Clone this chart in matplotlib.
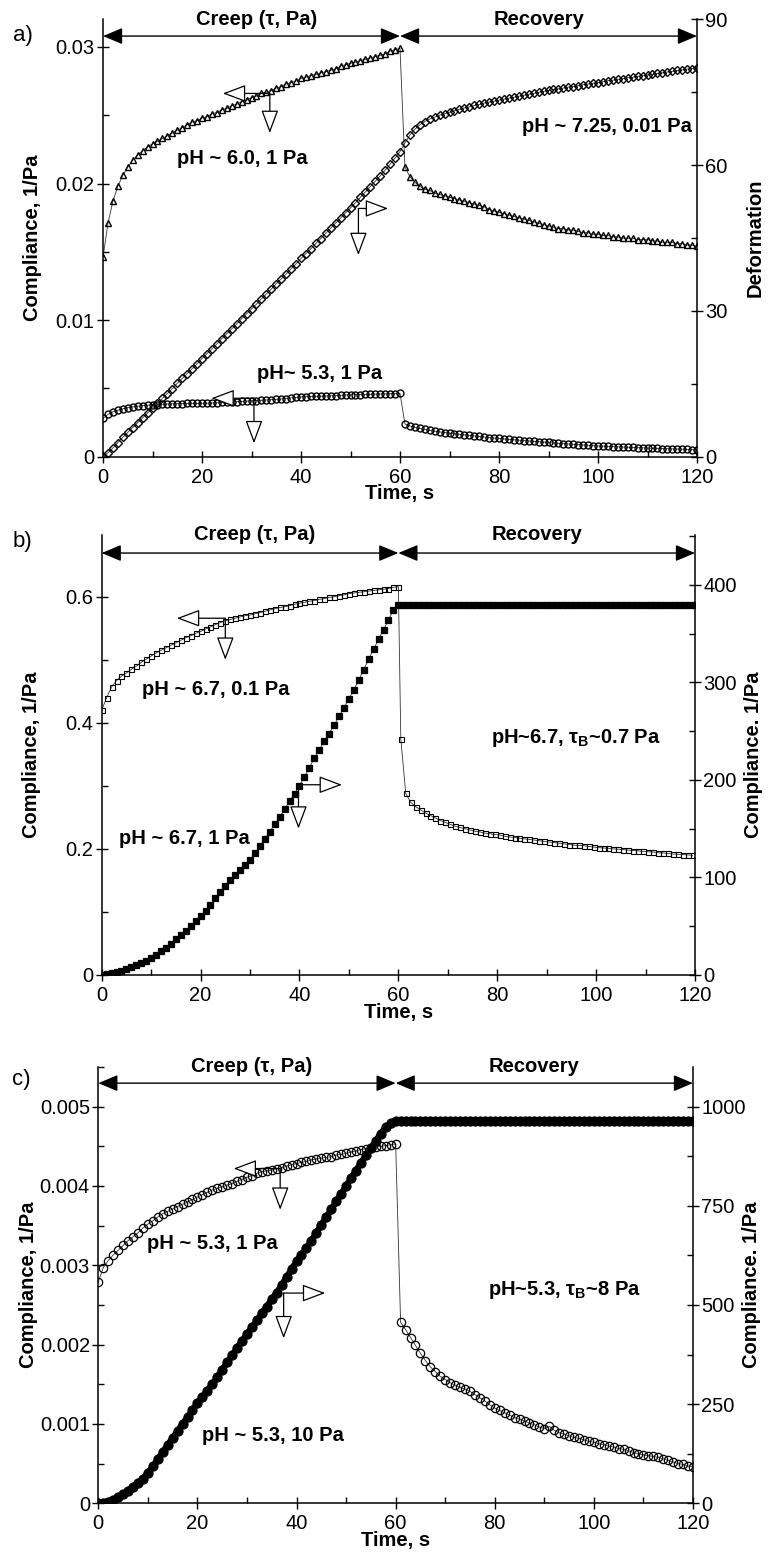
import numpy as np
import matplotlib
matplotlib.use("Agg")
import matplotlib.pyplot as plt
from matplotlib.ticker import MultipleLocator, FuncFormatter

plt.rcParams['font.family'] = ['Liberation Sans', 'DejaVu Sans']
plt.rcParams['mathtext.fontset'] = 'custom'
plt.rcParams['mathtext.rm'] = 'Liberation Sans'
plt.rcParams['mathtext.bf'] = 'Liberation Sans:bold'
plt.rcParams['mathtext.it'] = 'Liberation Sans:italic'

# ---------------- time grids (s) ----------------
t_creep = np.arange(0, 61)          # 0 ... 60 s
t_rec = np.arange(61, 121)          # 61 ... 120 s
t_rec_half = np.arange(60.5, 120, 1.0)  # 60.5 ... 119.5 s

# ---------------- panel a ----------------
# pH ~ 6.0, 1 Pa : compliance (1/Pa), triangles
a_tri_creep = [0.0146, 0.0171, 0.0187, 0.0198, 0.0206, 0.0212, 0.0217, 0.0221, 0.0224, 0.0227,
               0.0229, 0.0231, 0.0233, 0.0235, 0.0237, 0.0239, 0.0241, 0.0243, 0.0245, 0.0246,
               0.0248, 0.0249, 0.0251, 0.0252, 0.0254, 0.0255, 0.0257, 0.0258, 0.0260, 0.0261,
               0.0263, 0.0264, 0.0266, 0.0267, 0.0268, 0.0270, 0.0271, 0.0273, 0.0274, 0.0275,
               0.0277, 0.0278, 0.0279, 0.0280, 0.0281, 0.0282, 0.0283, 0.0284, 0.0286, 0.0287,
               0.0288, 0.0289, 0.0290, 0.0291, 0.0292, 0.0293, 0.0294, 0.0295, 0.0297, 0.0298,
               0.0299]
a_tri_rec = [0.0212, 0.0205, 0.0201, 0.0198, 0.0196, 0.0195, 0.0193, 0.0192, 0.0191, 0.0190,
             0.0189, 0.0188, 0.0187, 0.0186, 0.0185, 0.0184, 0.0183, 0.0181, 0.0180, 0.0179,
             0.0178, 0.0177, 0.0176, 0.0175, 0.0174, 0.0173, 0.0172, 0.0171, 0.0170, 0.0169,
             0.0168, 0.0167, 0.0167, 0.0166, 0.0166, 0.0165, 0.0164, 0.0164, 0.0163, 0.0163,
             0.0162, 0.0162, 0.0161, 0.0161, 0.0160, 0.0160, 0.0160, 0.0159, 0.0159, 0.0159,
             0.0158, 0.0158, 0.0157, 0.0157, 0.0157, 0.0156, 0.0156, 0.0155, 0.0155, 0.0154]

# pH ~ 7.25, 0.01 Pa : deformation
a_def_creep = [0.0, 0.8, 1.8, 2.9, 4.0, 5.0, 6.0, 7.0, 8.0, 9.0,
               10.0, 11.0, 12.0, 13.0, 14.0, 15.1, 16.1, 17.1, 18.1, 19.1,
               20.2, 21.2, 22.2, 23.2, 24.3, 25.3, 26.3, 27.3, 28.4, 29.4,
               30.4, 31.4, 32.5, 33.5, 34.5, 35.6, 36.6, 37.6, 38.7, 39.7,
               40.8, 41.8, 42.8, 43.9, 44.9, 46.0, 47.0, 48.1, 49.1, 50.2,
               51.2, 52.3, 53.4, 54.5, 55.6, 56.7, 57.8, 59.0, 60.2, 61.5,
               62.8]
a_def_rec = [64.6, 66.2, 67.4, 68.3, 69.0, 69.5, 69.9, 70.3, 70.6, 70.9,
             71.2, 71.5, 71.8, 72.0, 72.3, 72.5, 72.8, 73.0, 73.2, 73.4,
             73.6, 73.8, 74.0, 74.2, 74.4, 74.6, 74.8, 75.0, 75.2, 75.4,
             75.6, 75.7, 75.9, 76.1, 76.2, 76.4, 76.6, 76.7, 76.9, 77.0,
             77.2, 77.4, 77.5, 77.7, 77.8, 78.0, 78.1, 78.3, 78.4, 78.6,
             78.7, 78.9, 79.0, 79.2, 79.3, 79.5, 79.6, 79.8, 79.9, 80.1]

# pH ~ 5.3, 1 Pa : compliance (1/Pa), circles
a_cir_creep = [0.0028, 0.0031, 0.0033, 0.0034, 0.0035, 0.0036, 0.00365, 0.0037, 0.00374, 0.00377,
               0.0038, 0.00382, 0.00384, 0.00386, 0.00387, 0.00388, 0.00389, 0.0039, 0.0039, 0.0039,
               0.00391, 0.00392, 0.00393, 0.00395, 0.00397, 0.00399, 0.00401, 0.00403, 0.00405, 0.00407,
               0.00409, 0.00411, 0.00413, 0.00415, 0.00418, 0.0042, 0.00423, 0.00426, 0.0043, 0.00435,
               0.00438, 0.0044, 0.00441, 0.00442, 0.00443, 0.00444, 0.00446, 0.00448, 0.0045, 0.00452,
               0.00453, 0.00454, 0.00455, 0.00456, 0.00457, 0.00458, 0.00459, 0.0046, 0.00461, 0.00462,
               0.00464]
a_cir_rec = [0.0024, 0.00225, 0.00215, 0.00207, 0.0020, 0.00193, 0.00187, 0.00182, 0.00177, 0.00172,
             0.00168, 0.00164, 0.0016, 0.00156, 0.00152, 0.00148, 0.00144, 0.0014, 0.00137, 0.00134,
             0.0013, 0.00127, 0.00124, 0.00121, 0.00118, 0.00115, 0.00112, 0.0011, 0.00107, 0.00104,
             0.00101, 0.00098, 0.00096, 0.00093, 0.00091, 0.00088, 0.00086, 0.00084, 0.00081, 0.00079,
             0.00077, 0.00076, 0.00074, 0.00072, 0.00071, 0.00069, 0.00068, 0.00066, 0.00065, 0.00063,
             0.00062, 0.00061, 0.0006, 0.00058, 0.00057, 0.00056, 0.00055, 0.00053, 0.00052, 0.00051]

# ---------------- panel b ----------------
# pH ~ 6.7, 0.1 Pa : compliance (1/Pa), open squares
b_open_creep = [0.420, 0.440, 0.457, 0.467, 0.474, 0.479, 0.485, 0.490, 0.496, 0.501,
                0.506, 0.511, 0.515, 0.519, 0.523, 0.527, 0.531, 0.535, 0.538, 0.542,
                0.545, 0.549, 0.552, 0.556, 0.559, 0.562, 0.564, 0.566, 0.568, 0.570,
                0.571, 0.573, 0.575, 0.577, 0.579, 0.581, 0.583, 0.584, 0.586, 0.588,
                0.590, 0.591, 0.593, 0.594, 0.596, 0.597, 0.599, 0.600, 0.602, 0.603,
                0.605, 0.606, 0.607, 0.608, 0.609, 0.610, 0.611, 0.612, 0.613, 0.615,
                0.616]
b_open_rec = [0.374, 0.288, 0.274, 0.267, 0.262, 0.257, 0.253, 0.249, 0.245, 0.242,
              0.239, 0.236, 0.234, 0.232, 0.230, 0.228, 0.227, 0.225, 0.224, 0.223,
              0.222, 0.220, 0.219, 0.218, 0.217, 0.216, 0.215, 0.214, 0.213, 0.212,
              0.211, 0.210, 0.209, 0.208, 0.207, 0.206, 0.2055, 0.205, 0.204, 0.203,
              0.202, 0.2015, 0.201, 0.200, 0.1995, 0.199, 0.198, 0.1975, 0.197, 0.196,
              0.1955, 0.195, 0.194, 0.1935, 0.193, 0.192, 0.1915, 0.191, 0.1905, 0.190]

# pH ~ 6.7, 1 Pa : compliance (1/Pa), filled squares
b_fill_creep = [0, 1, 2, 3, 4.5, 6, 8, 10, 12, 14.5,
                17.5, 21, 24.5, 28, 32, 36.5, 41, 45.5, 50, 55,
                60, 66, 72, 78.5, 85, 91.5, 97.5, 103, 108, 113,
                118, 125, 132, 139.5, 147, 154.5, 162, 170, 178, 186,
                194, 203, 212.5, 222, 231, 239.5, 247.5, 256, 265, 274,
                283, 292.5, 302.5, 313, 324, 334, 344, 354, 364, 374,
                379]
b_fill_rec = [379, 379, 379, 379, 379, 379, 379, 379, 379, 379,
              379, 379, 379, 379, 379, 379, 379, 379, 379, 379,
              379, 379, 379, 379, 379, 379, 379, 379, 379, 379,
              379, 379, 379, 379, 379, 379, 379, 379, 379, 379,
              379, 379, 379, 379, 379, 379, 379, 379, 379, 379,
              379, 379, 379, 379, 379, 379, 379, 379, 379, 379]

# ---------------- panel c ----------------
# pH ~ 5.3, 1 Pa : compliance (1/Pa), open circles
c_open_creep = [0.00279, 0.00297, 0.00306, 0.00313, 0.00319, 0.00325, 0.00331, 0.00336, 0.00341, 0.00347,
                0.00352, 0.00356, 0.00361, 0.00365, 0.00368, 0.00371, 0.00374, 0.00377, 0.0038, 0.00383,
                0.00386, 0.00389, 0.00392, 0.00395, 0.00397, 0.00399, 0.00401, 0.00403, 0.00406, 0.00408,
                0.00411, 0.00413, 0.00416, 0.00418, 0.00419, 0.0042, 0.00422, 0.00423, 0.00425, 0.00427,
                0.00428, 0.0043, 0.00431, 0.00433, 0.00434, 0.00435, 0.00436, 0.00437, 0.00439, 0.0044,
                0.00441, 0.00443, 0.00444, 0.00446, 0.00447, 0.00448, 0.00449, 0.0045, 0.00451, 0.00452,
                0.00453]
c_open_rec = [0.00228, 0.00219, 0.00209, 0.00199, 0.00189, 0.0018, 0.00172, 0.00166, 0.0016, 0.00156,
              0.00152, 0.00149, 0.00146, 0.00144, 0.00141, 0.00137, 0.00133, 0.00129, 0.00124, 0.0012,
              0.00117, 0.00114, 0.00111, 0.00108, 0.00106, 0.00104, 0.00101, 0.00099, 0.00096, 0.00094,
              0.00097, 0.00092, 0.00089, 0.00087, 0.00085, 0.00083, 0.00082, 0.0008, 0.00078, 0.00077,
              0.00075, 0.00074, 0.00072, 0.00071, 0.00069, 0.00068, 0.00066, 0.00064, 0.00062, 0.00061,
              0.0006, 0.00059, 0.00058, 0.00056, 0.00054, 0.00052, 0.0005, 0.00049, 0.00047, 0.00046]

# pH ~ 5.3, 10 Pa : compliance (1/Pa), filled circles
c_fill_creep = [0, 1, 3, 8, 15, 23, 32, 42, 52, 62,
                76, 93, 111, 129, 147, 165, 182, 200, 217, 235,
                252, 268, 284, 300, 318, 337, 355, 373, 391, 409,
                427, 444, 461, 479, 496, 514, 531, 550, 570, 590,
                610, 627, 644, 662, 682, 702, 721, 741, 761, 780,
                800, 819, 839, 858, 877, 895, 914, 932, 948, 958,
                964]
c_fill_rec = [965, 965, 965, 965, 965, 965, 965, 965, 965, 965,
              965, 965, 965, 965, 965, 965, 965, 965, 965, 965,
              965, 965, 965, 965, 965, 965, 965, 965, 965, 965,
              965, 965, 965, 965, 965, 965, 965, 965, 965, 965,
              965, 965, 965, 965, 965, 965, 965, 965, 965, 965,
              965, 965, 965, 965, 965, 965, 965, 965, 965, 965]

# ---------------- figure ----------------
W, H = 768, 1562
fig = plt.figure(figsize=(W / 100, H / 100), dpi=100)


def px_axes(left, right, top, bottom):
    return fig.add_axes([left / W, 1 - bottom / H, (right - left) / W, (bottom - top) / H])


FS_TICK = 14.5
FS_BOLD = 14.5


def fmt(v, pos):
    return '0' if abs(v) < 1e-12 else '%g' % v


def style(ax, ax2, ylim_l, ylim_r, lmaj, lmin, rmaj, rmin, rlabel):
    ax.set_xlim(0, 120)
    ax.set_ylim(*ylim_l)
    ax2.set_ylim(*ylim_r)
    ax.xaxis.set_major_locator(MultipleLocator(20))
    ax.xaxis.set_minor_locator(MultipleLocator(10))
    ax.yaxis.set_major_locator(MultipleLocator(lmaj))
    ax.yaxis.set_minor_locator(MultipleLocator(lmin))
    ax2.yaxis.set_major_locator(MultipleLocator(rmaj))
    ax2.yaxis.set_minor_locator(MultipleLocator(rmin))
    ax.yaxis.set_major_formatter(FuncFormatter(fmt))
    ax2.yaxis.set_major_formatter(FuncFormatter(fmt))
    for a in (ax, ax2):
        a.tick_params(which='major', direction='inout', length=9, width=1.0,
                      labelsize=FS_TICK, pad=1.5)
        a.tick_params(which='minor', direction='in', length=4.5, width=1.0)
        a.spines['top'].set_visible(False)
        for s in a.spines.values():
            s.set_linewidth(1.1)
    ax.tick_params(axis='x', which='major', pad=3.5)
    ax.spines['right'].set_visible(False)
    ax2.spines['left'].set_visible(False)
    ax2.spines['bottom'].set_visible(False)
    ax.set_xlabel('Time, s', fontsize=FS_BOLD, fontweight='bold')
    ax.xaxis.set_label_coords(0.5, -0.085)
    ax.xaxis.label.set_va('center')
    ax.set_ylabel('Compliance, 1/Pa', fontsize=FS_BOLD, fontweight='bold')
    ax.yaxis.set_label_coords(-0.118, 0.5)
    ax.yaxis.label.set_va('center')
    ax2.set_ylabel(rlabel, fontsize=FS_BOLD, fontweight='bold', rotation=90)
    ax2.yaxis.set_label_coords(1.098, 0.5)
    ax2.yaxis.label.set_va('center')
    ax.patch.set_visible(False)


def phases(ax, yfrac):
    tr = ax.get_xaxis_transform()
    kw = dict(arrowstyle='<|-|>,head_length=1.0,head_width=0.42', fc='black', ec='black',
              lw=1.0, shrinkA=0, shrinkB=0, mutation_scale=12)
    ax.annotate('', xy=(60, yfrac), xytext=(0, yfrac), xycoords=tr, textcoords=tr,
                arrowprops=kw, annotation_clip=False)
    ax.annotate('', xy=(120, yfrac), xytext=(60, yfrac), xycoords=tr, textcoords=tr,
                arrowprops=kw, annotation_clip=False)
    ax.text(31, 1.0, 'Creep (τ, Pa)', transform=tr, ha='center', va='center',
            fontsize=FS_BOLD, fontweight='bold')
    ax.text(88, 1.0, 'Recovery', transform=tr, ha='center', va='center',
            fontsize=FS_BOLD, fontweight='bold')


def pointer(ax, x0, y0, x_tip, y_tip):
    kw = dict(arrowstyle='-|>,head_length=1.2,head_width=0.45', fc='white', ec='black',
              lw=0.9, shrinkA=0, shrinkB=0, mutation_scale=12)
    ax.annotate('', xy=(x_tip, y0), xytext=(x0, y0), arrowprops=kw, zorder=8)
    ax.annotate('', xy=(x0, y_tip), xytext=(x0, y0), arrowprops=kw, zorder=8)


def series(ax, t1, y1, t2, y2, marker, ms, filled=False, mew=0.9, lw=0.6):
    t = np.concatenate([t1, t2])
    y = np.concatenate([y1, y2])
    ax.plot(t, y, '-', color='black' if lw > 1 else '#333333', lw=lw, zorder=2)
    ax.plot(t, y, linestyle='none', marker=marker, ms=ms,
            mfc='black' if filled else 'none', mec='black', mew=mew, zorder=3)


def label(ax, x, y, s):
    ax.text(x, y, s, ha='center', va='center', fontsize=FS_BOLD, fontweight='bold', zorder=9)


# ---- a) ----
axa = px_axes(103, 697, 19, 456.7)
axa2 = axa.twinx()
style(axa, axa2, (0, 0.03205), (0, 90.1), 0.01, 0.005, 30, 15, 'Deformation')
series(axa, t_creep, a_tri_creep, t_rec, a_tri_rec, '^', 5.0, mew=1.0)
series(axa, t_creep, a_cir_creep, t_rec, a_cir_rec, 'o', 5.0, mew=1.0)
series(axa2, t_creep, a_def_creep, t_rec, a_def_rec, 'D', 4.0, mew=1.0)
phases(axa, 0.961)
pointer(axa, 33.7, 0.0266, 24.2, 0.0237)
pointer(axa, 30.5, 0.00428, 21.9, 0.00098)
pointer(axa2, 51.6, 51.1, 57.6, 41.5)
label(axa, 28.2, 0.02187, 'pH ~ 6.0, 1 Pa')
label(axa2, 101.8, 67.9, 'pH ~ 7.25, 0.01 Pa')
label(axa, 43.8, 0.0061, 'pH~ 5.3, 1 Pa')

# ---- b) ----
axb = px_axes(101.7, 695, 535, 975)
axb2 = axb.twinx()
style(axb, axb2, (0, 0.698), (0, 451), 0.2, 0.1, 100, 50, 'Compliance. 1/Pa')
series(axb, t_creep, b_open_creep, t_rec_half, b_open_rec, 's', 3.6, mew=0.8)
series(axb2, t_creep, b_fill_creep, t_rec, b_fill_rec, 's', 4.0, filled=True)
phases(axb, 0.959)
pointer(axb, 25.0, 0.566, 15.2, 0.50)
pointer(axb2, 39.8, 195, 48.6, 150)
label(axb, 23.0, 0.4535, 'pH ~ 6.7, 0.1 Pa')
label(axb, 16.7, 0.217, 'pH ~ 6.7, 1 Pa')
label(axb, 95.9, 0.3757, r'pH~6.7, τ$_\mathbf{B}$~0.7 Pa')

# ---- c) ----
axc = px_axes(98.3, 693, 1067, 1503.3)
axc2 = axc.twinx()
style(axc, axc2, (0, 0.0055), (0, 1100), 0.001, 0.0005, 250, 125, 'Compliance. 1/Pa')
series(axc, t_creep, c_open_creep, t_rec, c_open_rec, 'o', 6.0)
series(axc2, t_creep, c_fill_creep, t_rec, c_fill_rec, 'o', 6.5, filled=True, lw=4.5)
phases(axc, 0.963)
pointer(axc, 36.7, 0.00422, 27.3, 0.0037)
pointer(axc2, 37.4, 530, 45.8, 416)
label(axc, 23.1, 0.00328, 'pH ~ 5.3, 1 Pa')
label(axc, 35.2, 0.00086, 'pH ~ 5.3, 10 Pa')
label(axc, 94.0, 0.00269, r'pH~5.3, τ$_\mathbf{B}$~8 Pa')

# panel letters
fig.text(23 / W, 1 - 36 / H, 'a)', fontsize=16, ha='center', va='center')
fig.text(22 / W, 1 - 541 / H, 'b)', fontsize=16, ha='center', va='center')
fig.text(21 / W, 1 - 1079 / H, 'c)', fontsize=16, ha='center', va='center')

fig.savefig('out.png', dpi=100)
